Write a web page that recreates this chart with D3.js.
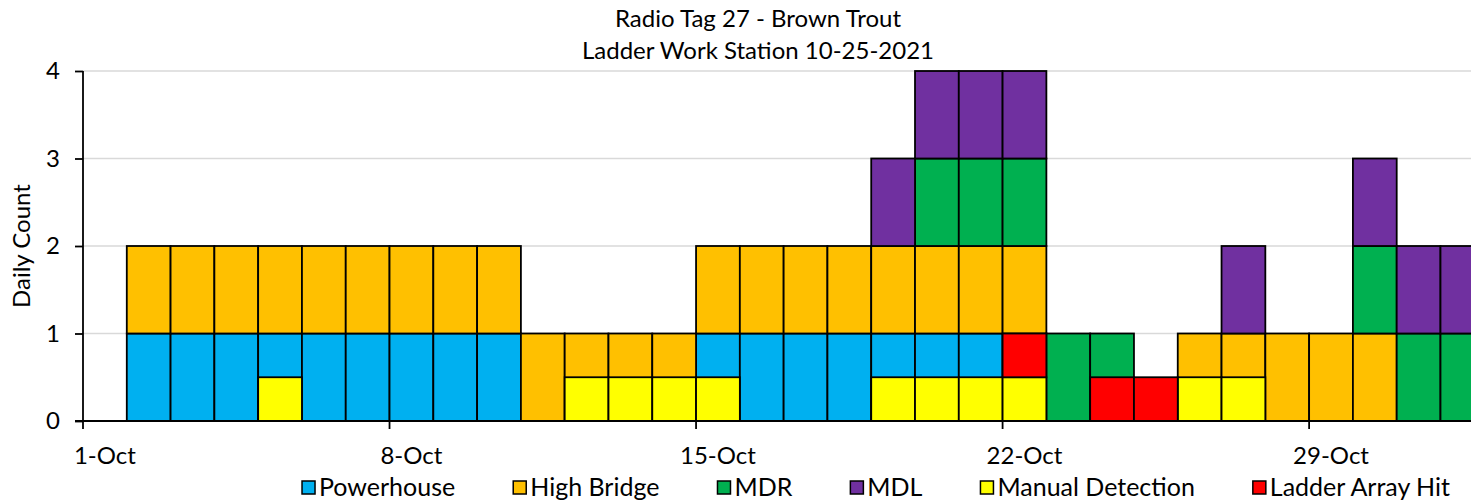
<!DOCTYPE html>
<html>
<head>
<meta charset="utf-8">
<script src="https://cdn.jsdelivr.net/npm/d3@7"></script>
<style>
  body { margin: 0; background: #fff; }
  svg { display: block; }
  text { font-family: Lato, "Open Sans", sans-serif; fill: #000; }
</style>
</head>
<body>
<svg id="chart" width="1471" height="501"></svg>
<script>
// Days on the axis (Oct 1 through Nov 1)
const days = ["1-Oct","2-Oct","3-Oct","4-Oct","5-Oct","6-Oct","7-Oct","8-Oct","9-Oct","10-Oct",
  "11-Oct","12-Oct","13-Oct","14-Oct","15-Oct","16-Oct","17-Oct","18-Oct","19-Oct","20-Oct",
  "21-Oct","22-Oct","23-Oct","24-Oct","25-Oct","26-Oct","27-Oct","28-Oct","29-Oct","30-Oct",
  "31-Oct","1-Nov"];
const dateTicks = ["1-Oct","8-Oct","15-Oct","22-Oct","29-Oct"];
const countTicks = [0, 1, 2, 3, 4];

// Receiver detections per day (stacked)
const powerhouse = [0,1,1,1,1,1,1,1,1,1,0,0,0,0,1,1,1,1,1,1,1,1,0,0,0,0,0,0,0,0,0,0];
const highBridge = [0,1,1,1,1,1,1,1,1,1,1,1,1,1,1,1,1,1,1,1,1,1,0,0,0,1,1,1,1,1,0,0];
const mdr        = [0,0,0,0,0,0,0,0,0,0,0,0,0,0,0,0,0,0,0,1,1,1,1,1,0,0,0,0,0,1,1,1];
const mdl        = [0,0,0,0,0,0,0,0,0,0,0,0,0,0,0,0,0,0,1,1,1,1,0,0,0,0,1,0,0,1,1,1];
// Event markers drawn over the stack (half-height flags)
const manualDetection = [0,0,0,0,0.5,0,0,0,0,0,0,0.5,0.5,0.5,0.5,0,0,0,0.5,0.5,0.5,0.5,0,0,0,0.5,0.5,0,0,0,0,0];
const ladderArrayHit  = [0,0,0,0,0,0,0,0,0,0,0,0,0,0,0,0,0,0,0,0,0,0.5,0,0.5,0.5,0,0,0,0,0,0,0];

const stackSeries = [
  { name: "Powerhouse", values: powerhouse, color: "#00B0F0" },
  { name: "High Bridge", values: highBridge, color: "#FFC000" },
  { name: "MDR", values: mdr, color: "#00B050" },
  { name: "MDL", values: mdl, color: "#7030A0" }
];
const markerSeries = [
  { name: "Manual Detection", values: manualDetection, color: "#FFFF00" },
  { name: "Ladder Array Hit", values: ladderArrayHit, color: "#FF0000" }
];

const svg = d3.select("#chart");
const plotLeft = 83, plotTop = 71, plotBottom = 421, dayWidth = 43.79;

const x = d3.scaleBand().domain(days).range([plotLeft, plotLeft + days.length * dayWidth]).padding(0);
const y = d3.scaleLinear().domain([0, 4]).range([plotBottom, plotTop]);

// Horizontal gridlines
svg.append("g").selectAll("line").data(countTicks.filter(d => d > 0)).join("line")
  .attr("x1", plotLeft).attr("x2", 1471)
  .attr("y1", d => y(d)).attr("y2", d => y(d))
  .attr("stroke", "#d9d9d9").attr("stroke-width", 1.5);

function drawStack(series, cls) {
  const rows = days.map((d, i) => {
    const r = { day: d };
    series.forEach(s => r[s.name] = s.values[i]);
    return r;
  });
  const stacked = d3.stack().keys(series.map(s => s.name))(rows);
  const g = svg.append("g").attr("class", cls);
  stacked.forEach((layer, k) => {
    g.append("g").selectAll("rect")
      .data(layer.filter(p => p[1] - p[0] > 0))
      .join("rect")
      .attr("x", p => x(p.data.day))
      .attr("width", x.bandwidth())
      .attr("y", p => y(p[1]))
      .attr("height", p => y(p[0]) - y(p[1]))
      .attr("fill", series[k].color)
      .attr("stroke", "#000")
      .attr("stroke-width", 1.8);
  });
}
drawStack(stackSeries, "stations");
drawStack(markerSeries, "markers");

// Y axis
const yAxis = svg.append("g").attr("transform", `translate(${plotLeft},0)`)
  .call(d3.axisLeft(y).tickValues(countTicks).tickSize(8).tickPadding(15).tickFormat(d3.format("d")));
yAxis.select(".domain").attr("stroke", "#000").attr("stroke-width", 1.8).attr("d", `M0,${plotTop}V${plotBottom}`);
yAxis.selectAll(".tick line").attr("stroke", "#000").attr("stroke-width", 1.8);
yAxis.selectAll(".tick text").style("font-size", "24px").attr("font-family", null);

// X axis: labels centred on the day, tick marks on the day boundary
const xAxis = svg.append("g").attr("transform", `translate(0,${plotBottom})`)
  .call(d3.axisBottom(x).tickValues(dateTicks).tickSize(0).tickPadding(26));
xAxis.select(".domain").attr("stroke", "#000").attr("stroke-width", 1.8).attr("d", `M${plotLeft - 8},0H1471`);
xAxis.selectAll(".tick text").style("font-size", "24px").attr("font-family", null);
xAxis.selectAll(".tick").append("line")
  .attr("x1", -x.bandwidth() / 2).attr("x2", -x.bandwidth() / 2)
  .attr("y1", 0).attr("y2", 8)
  .attr("stroke", "#000").attr("stroke-width", 1.8);

// Titles
const title = svg.append("g").attr("text-anchor", "middle").style("font-size", "24px");
title.append("text").attr("x", 758).attr("y", 27).text("Radio Tag 27 - Brown Trout");
title.append("text").attr("x", 758).attr("y", 59).text("Ladder Work Station 10-25-2021");

svg.append("text")
  .attr("transform", `translate(30,${(plotTop + plotBottom) / 2}) rotate(-90)`)
  .attr("text-anchor", "middle")
  .style("font-size", "24px")
  .text("Daily Count");

// Legend
const legendItems = stackSeries.concat(markerSeries);
const legend = svg.append("g").style("font-size", "25px");
let cursor = 0;
legendItems.forEach(s => {
  const g = legend.append("g");
  g.append("rect").attr("x", 0).attr("y", -15).attr("width", 13).attr("height", 13)
    .attr("fill", s.color).attr("stroke", "#000").attr("stroke-width", 1.5);
  const t = g.append("text").attr("x", 17).attr("y", 0).text(s.name);
  g.attr("transform", `translate(${cursor},0)`);
  cursor += 17 + t.node().getComputedTextLength() + 58;
});
const legendWidth = cursor - 58;
legend.attr("transform", `translate(${876 - legendWidth / 2},496)`);
</script>
</body>
</html>
